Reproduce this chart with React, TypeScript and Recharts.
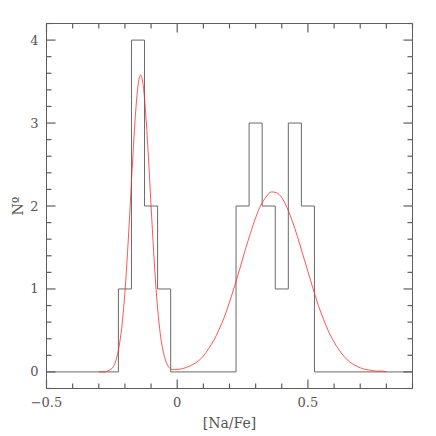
import { ComposedChart, Line, XAxis, YAxis } from 'recharts';

// histogram: left bin edge -> count (step function)
const HIST_EDGES = [-0.5, -0.225, -0.175, -0.125, -0.075, -0.025, 0.225, 0.275, 0.325, 0.375, 0.425, 0.475, 0.525, 0.9];
const HIST_COUNTS = [0, 1, 4, 2, 1, 0, 2, 3, 2, 1, 3, 2, 0, 0];

// fitted curve
const FIT_X = [
  -0.3, -0.28, -0.26, -0.25, -0.24, -0.23, -0.22, -0.21, -0.2, -0.19, -0.18, -0.17, -0.16, -0.15, -0.14,
  -0.13, -0.12, -0.11, -0.1, -0.09, -0.08, -0.07, -0.06, -0.05, -0.04, -0.03, -0.02, -0.01, 0,
  0.02, 0.04, 0.06, 0.08, 0.1, 0.12, 0.14, 0.16, 0.18, 0.2, 0.22, 0.24, 0.26, 0.28, 0.3, 0.32, 0.34,
  0.36, 0.38, 0.4, 0.42, 0.44, 0.46, 0.48, 0.5, 0.52, 0.54, 0.56, 0.58, 0.6, 0.62, 0.64, 0.66, 0.68,
  0.7, 0.72, 0.74, 0.76, 0.78, 0.8,
];
const FIT_Y = [
  0.0, 0.0, 0.02, 0.04, 0.09, 0.19, 0.35, 0.6, 0.96, 1.44, 2.0, 2.58, 3.09, 3.45, 3.58,
  3.45, 3.09, 2.58, 2.0, 1.44, 0.96, 0.6, 0.35, 0.2, 0.1, 0.05, 0.03, 0.03, 0.03,
  0.04, 0.06, 0.09, 0.13, 0.19, 0.28, 0.38, 0.51, 0.66, 0.84, 1.04, 1.25, 1.47, 1.67, 1.86, 2.01, 2.11,
  2.17, 2.16, 2.1, 1.98, 1.82, 1.63, 1.42, 1.21, 1.0, 0.8, 0.63, 0.48, 0.36, 0.26, 0.18, 0.12, 0.08,
  0.05, 0.03, 0.02, 0.01, 0.01, 0.0,
];

const X_TICKS = [-0.5, -0.4, -0.3, -0.2, -0.1, 0, 0.1, 0.2, 0.3, 0.4, 0.5, 0.6, 0.7, 0.8, 0.9];
const X_MAJOR = [-0.5, 0, 0.5];
const X_LABELS = ['\u22120.5', '0', '0.5'];
const Y_TICKS = [-0.2, 0, 0.2, 0.4, 0.6, 0.8, 1, 1.2, 1.4, 1.6, 1.8, 2, 2.2, 2.4, 2.6, 2.8, 3, 3.2, 3.4, 3.6, 3.8, 4, 4.2];
const Y_MAJOR = [0, 1, 2, 3, 4];
const Y_LABELS = ['0', '1', '2', '3', '4'];

const histData = HIST_EDGES.map((x, i) => ({ x, n: HIST_COUNTS[i] }));
const fitData = FIT_X.map((x, i) => ({ x, n: FIT_Y[i] }));

const FRAME = '#5e5e5e';
const TEXT = '#555';
const FONT = 'DejaVu Serif';

const majorIndex = (v: number, majors: number[]) => majors.findIndex((m) => Math.abs(m - v) < 1e-6);

// ticks point inward; tickSize/tickMargin are 0 so (x, y) sits on the frame
const makeTick = (side: string, labels: string[] | null) => (props: any) => {
  const x = Number(props.x);
  const y = Number(props.y);
  const majors = side === 'bottom' || side === 'top' ? X_MAJOR : Y_MAJOR;
  const idx = majorIndex(props.payload.value, majors);
  const len = idx >= 0 ? 9 : 5;
  let x2 = x;
  let y2 = y;
  if (side === 'bottom') y2 = y - len;
  if (side === 'top') y2 = y + len;
  if (side === 'left') x2 = x + len;
  if (side === 'right') x2 = x - len;
  const showLabel = labels !== null && idx >= 0;
  return (
    <g>
      <line x1={x} y1={y} x2={x2} y2={y2} stroke={FRAME} strokeWidth={1.2} />
      {showLabel && side === 'bottom' ? (
        <text x={x} y={y + 14} textAnchor="middle" dominantBaseline="central" fontFamily={FONT} fontSize={13} fill={TEXT}>
          {labels![idx]}
        </text>
      ) : null}
      {showLabel && side === 'left' ? (
        <text x={x - 8} y={y} textAnchor="end" dominantBaseline="central" fontFamily={FONT} fontSize={13} fill={TEXT}>
          {labels![idx]}
        </text>
      ) : null}
    </g>
  );
};

const bottomTick = makeTick('bottom', X_LABELS);
const topTick = makeTick('top', null);
const leftTick = makeTick('left', Y_LABELS);
const rightTick = makeTick('right', null);

const xLabel = (p: any) => {
  const vb = p.viewBox;
  return (
    <text x={vb.x + vb.width / 2} y={vb.y + 34} textAnchor="middle" dominantBaseline="central" fontFamily={FONT} fontSize={14} fill={TEXT}>
      [Na/Fe]
    </text>
  );
};

const yLabel = (p: any) => {
  const vb = p.viewBox;
  const cx = vb.x + 17.5;
  const cy = vb.y + vb.height / 2;
  return (
    <text x={cx} y={cy} transform={`rotate(-90 ${cx} ${cy})`} textAnchor="middle" dominantBaseline="central" fontFamily={FONT} fontSize={14} fill={TEXT}>
      Nº
    </text>
  );
};

export default function App() {
  return (
    <div style={{ position: 'absolute', left: 0, top: 0, width: 436, height: 436, background: '#fff' }}>
      <ComposedChart width={436} height={436} margin={{ top: 22.5, right: 22.5, bottom: 0, left: 0 }}>
        <XAxis
          xAxisId="b"
          type="number"
          dataKey="x"
          orientation="bottom"
          domain={[-0.5, 0.9]}
          allowDataOverflow
          ticks={X_TICKS}
          interval={0}
          height={47.5}
          tickSize={0}
          tickMargin={0}
          tickLine={false}
          stroke={FRAME}
          tick={bottomTick}
          label={{ content: xLabel }}
        />
        <XAxis
          xAxisId="t"
          type="number"
          dataKey="x"
          orientation="top"
          domain={[-0.5, 0.9]}
          allowDataOverflow
          ticks={X_TICKS}
          interval={0}
          height={1}
          tickSize={0}
          tickMargin={0}
          tickLine={false}
          stroke={FRAME}
          tick={topTick}
        />
        <YAxis
          yAxisId="l"
          type="number"
          orientation="left"
          domain={[-0.2, 4.2]}
          allowDataOverflow
          ticks={Y_TICKS}
          interval={0}
          width={46.5}
          tickSize={0}
          tickMargin={0}
          tickLine={false}
          stroke={FRAME}
          tick={leftTick}
          label={{ content: yLabel }}
        />
        <YAxis
          yAxisId="r"
          type="number"
          orientation="right"
          domain={[-0.2, 4.2]}
          allowDataOverflow
          ticks={Y_TICKS}
          interval={0}
          width={1}
          tickSize={0}
          tickMargin={0}
          tickLine={false}
          stroke={FRAME}
          tick={rightTick}
        />
        <Line
          xAxisId="b"
          yAxisId="l"
          data={histData}
          dataKey="n"
          type="stepAfter"
          stroke="#6a6a6a"
          strokeWidth={1}
          dot={false}
          activeDot={false}
          isAnimationActive={false}
        />
        <Line
          xAxisId="b"
          yAxisId="l"
          data={fitData}
          dataKey="n"
          type="monotone"
          stroke="#ff2a2a"
          strokeWidth={0.8}
          dot={false}
          activeDot={false}
          isAnimationActive={false}
        />
      </ComposedChart>
    </div>
  );
}
